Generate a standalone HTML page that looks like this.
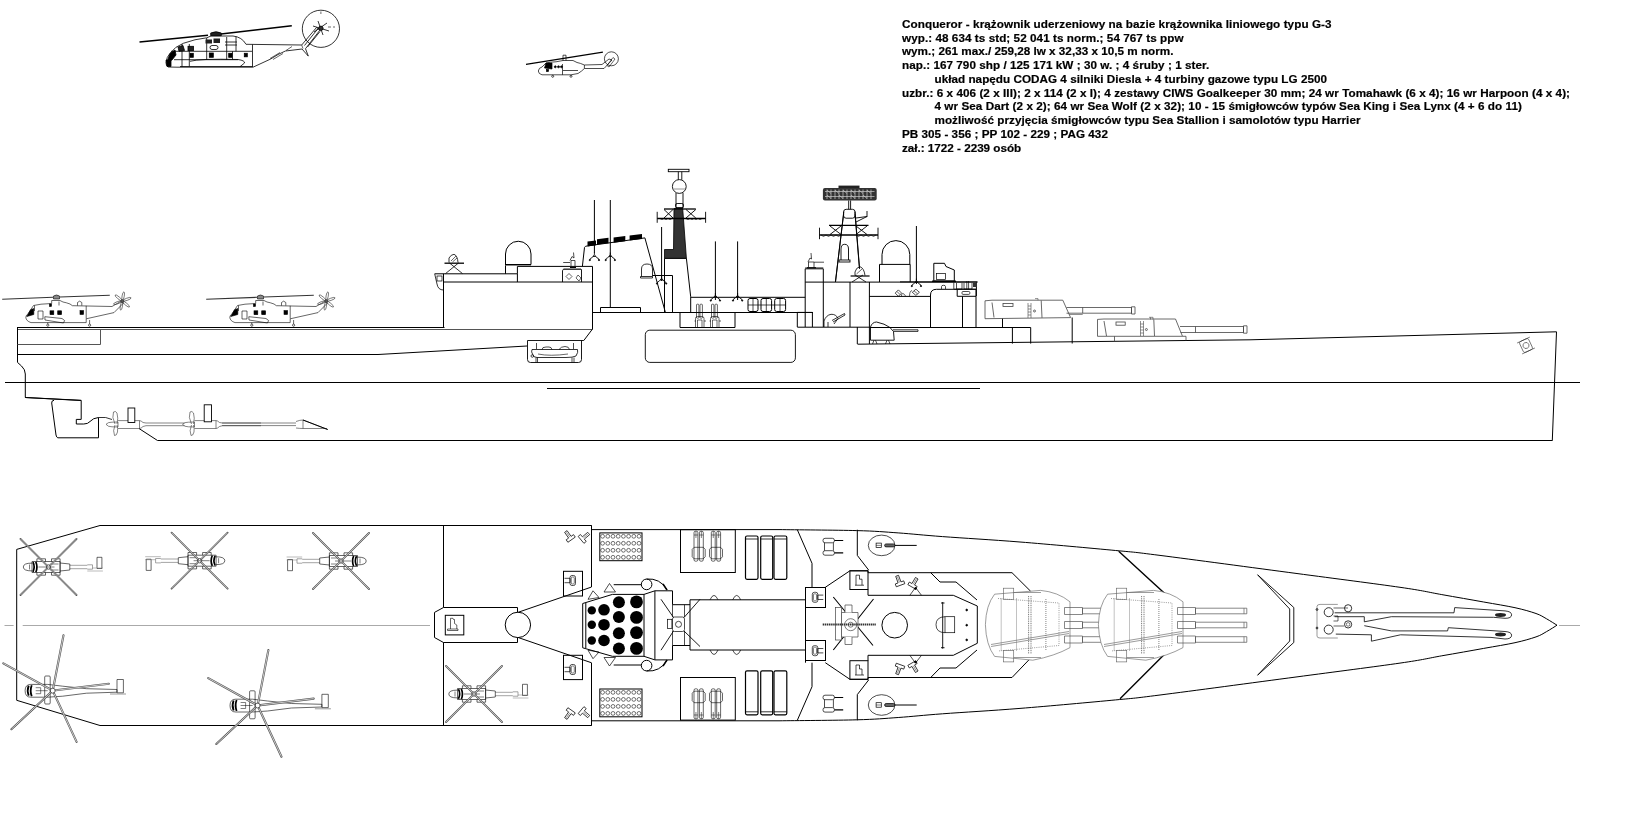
<!DOCTYPE html>
<html><head><meta charset="utf-8"><title>Conqueror</title>
<style>
html,body{margin:0;padding:0;background:#fff;width:1625px;height:825px;overflow:hidden}
svg{position:absolute;left:0;top:0}
.t{font-family:"Liberation Sans",sans-serif;font-weight:bold;font-size:11.7px;fill:#000;stroke:#000;stroke-width:0.2px}
</style></head><body>
<svg width="1625" height="825" viewBox="0 0 1625 825">
<rect width="1625" height="825" fill="#fff"/>
<defs>
<g id="claw" fill="none" stroke="#000" stroke-width="0.85"><path d="M0 0V2.2M0 2.2L-2.6 5.4M0 2.2L2.6 5.4M-1.4 4H1.4M-2.6 5.4Q-4.2 5.2 -4.6 7.6M2.6 5.4Q4.2 5.2 4.6 7.6"/><circle cx="-4.6" cy="7.6" r="0.6" fill="#000"/><circle cx="4.6" cy="7.6" r="0.6" fill="#000"/></g>
<g id="ciwsL" fill="none" stroke="#000" stroke-width="0.7"><rect x="-2.5" y="-5" width="5.5" height="10" rx="2"/><path d="M-2.5 -2.2H-8M-2.5 2.2H-8M-2.5 -2.2V2.2" /><rect x="-1.2" y="-3.5" width="3" height="7" rx="1" stroke-width="0.5"/></g>
<g id="dirT" fill="none" stroke="#000" stroke-width="0.7"><path d="M-4 5H5M-3 5V-5H0.5V-1H3V5" /></g>
<g id="tee" fill="none" stroke="#000" stroke-width="0.7"><path d="M-1.5 -5.5H1.5V1.5H4.5V4.5H-4.5V1.5H-1.5Z"/><path d="M0 -4.5V1.5" stroke-width="0.4"/></g>
<g id="gkT" fill="none" stroke="#000" stroke-width="0.6"><path d="M-4.5 1.3H4.5L6.5 3.3V10.8L4.5 12.8H-4.5L-6.5 10.8V3.3Z"/><rect x="-4.7" y="-14.8" width="3.9" height="30" rx="1.5"/><rect x="0.7" y="-14.8" width="3.9" height="30" rx="1.5"/><path d="M-4.7 -11H-0.8M0.7 -11H4.6M-2.75 -14.8V-8M2.65 -14.8V-8" stroke-width="0.5"/></g>
<g id="turT" fill="none" stroke="#666" stroke-width="0.65">
<path d="M994.6 594.2Q986 605 985.4 624.7Q986 645 994.6 656.4L1032.8 660.2Q1055 656 1070 647.6V601.8Q1058 592 1040.5 590.4Z" fill="#fff"/>
<path d="M998 598.5L1059 603V645.5L998 651" stroke-dasharray="1 1.2"/>
<path d="M1001.2 598.5V651M1016.5 598.5V651M1045.9 599V650" stroke-dasharray="1 1" stroke-width="0.8" stroke="#666"/>
<path d="M1028.6 596V654M1031 596V654" stroke-dasharray="1 0.8" stroke-width="0.8" stroke="#555"/>
<rect x="1003.4" y="588.2" width="10.3" height="11.4"/>
<rect x="1003.4" y="650.5" width="10.3" height="11.4"/>
<path d="M1013.7 592.5H1041M1013.7 657.5H1041"/>
<path d="M991 644.5L1069 631.5M991 646.5L1069 633.5"/>
<path d="M1064.5 607.5H1082.5V614.5H1064.5ZM1082.5 608.2H1133.8V613.8H1082.5Z" stroke="#555" stroke-width="0.7"/>
<path d="M1064.5 621.5H1082.5V628.5H1064.5ZM1082.5 622.2H1133.8V627.8H1082.5Z" stroke="#555" stroke-width="0.7"/>
<path d="M1064.5 636H1082.5V643H1064.5ZM1082.5 636.7H1133.8V642.3H1082.5Z" stroke="#555" stroke-width="0.7"/>
<path d="M1131 608.2V613.8M1131 622.2V627.8M1131 636.7V642.3" stroke="#555"/>
</g>
<g id="lynxT" fill="none" stroke="#000" stroke-width="0.6">
<path d="M-21.3 -1.7H-38.8M-21.3 1.7H-38.8" stroke="#666"/>
<path d="M-38.8 -2.2H-44V2.2H-38.8" stroke="#666"/>
<path d="M-48.5 -1.5H-53.4V9.7H-48.5Z"/>
<path d="M-54.4 -4H-38.8M-54.4 -1H-44" stroke="#777" stroke-width="0.5"/>
<path d="M-11.6 -4L-21.3 -3V3L-11.6 4"/>
<path d="M-11.6 -5.5H16.5V5.5H-11.6Z" fill="#fff"/>
<path d="M-11.6 -8.2H-3V-5.5M-11.6 8.2H-3V5.5M3 -5.5V-8.2H11.6V-5.5M3 5.5V8.2H11.6V5.5M-11.6 -8.2V8.2"/>
<path d="M16.5 -3.9Q25.2 -3.9 25.2 0Q25.2 3.9 16.5 3.9"/>
<path d="M15.5 -4.8Q13.2 0 15.5 4.8M12.7 -5.2Q10.4 0 12.7 5.2" stroke-width="1.7"/>
<path d="M-6 0H10M19 -2.5V2.5M-10 -3H-2M-10 3H-2" stroke-width="0.5"/>
<circle r="2.2"/>
<path d="M1.4 1.4L28.0 28.0M-1.4 1.4L-28.0 28.0M-1.4 -1.4L-28.0 -28.0M1.4 -1.4L28.0 -28.0" stroke="#555" stroke-width="1.8" stroke-linecap="round"/>
<path d="M1.4 1.4L28.0 28.0M-1.4 1.4L-28.0 28.0M-1.4 -1.4L-28.0 -28.0M1.4 -1.4L28.0 -28.0" stroke="#fff" stroke-width="0.6"/>
</g>
<g id="stalT" fill="none" stroke="#000" stroke-width="0.6">
<path d="M-27.6 0Q-27.6 -6.3 -22 -6.3H-5L10 -4.5L33.8 -2L64.3 -1.2V1.5L33.8 2.5L10 5.5L-5 6.5H-22Q-27.6 6.5 -27.6 0Z"/>
<path d="M-24 -5Q-26 0 -24 5M-21 -5.5Q-23 0 -21 5.5" stroke-width="1.8"/>
<path d="M-17 0H-5M-17 -3H-12V3H-17" stroke-width="0.5"/>
<rect x="-8" y="-14.7" width="5.5" height="28" rx="1"/>
<path d="M64.3 -11.2H70.7V2.1H64.3Z"/>
<path d="M57.3 3.3H73.3" stroke="#555"/>
<circle r="2.5"/>
<path d="M0.6 -2.9L10.8 -55.5M3.0 -0.4L56.1 -6.9M1.3 2.7L23.9 51.2M-2.2 2.0L-41.3 38.5M-2.6 -1.5L-49.4 -27.4" stroke="#555" stroke-width="2.1" stroke-linecap="round"/>
<path d="M0.6 -2.9L10.8 -55.5M3.0 -0.4L56.1 -6.9M1.3 2.7L23.9 51.2M-2.2 2.0L-41.3 38.5M-2.6 -1.5L-49.4 -27.4" stroke="#fff" stroke-width="0.7"/>
</g>
</defs>

<!-- TEXT -->
<g class="t" style="will-change:transform">
<text x="902" y="28.0" textLength="429.6" lengthAdjust="spacing">Conqueror - krążownik uderzeniowy na bazie krążownika liniowego typu G-3</text>
<text x="902" y="41.7" textLength="281.5" lengthAdjust="spacing">wyp.: 48 634 ts std; 52 041 ts norm.; 54 767 ts ppw</text>
<text x="902" y="55.4" textLength="271.4" lengthAdjust="spacing">wym.; 261 max./ 259,28 lw x 32,33 x 10,5 m norm.</text>
<text x="902" y="69.2" textLength="307.2" lengthAdjust="spacing">nap.: 167 790 shp / 125 171 kW ; 30 w. ; 4 śruby ; 1 ster.</text>
<text x="934.5" y="82.9" textLength="392.5" lengthAdjust="spacing">układ napędu CODAG 4 silniki Diesla + 4 turbiny gazowe typu LG 2500</text>
<text x="902" y="96.6" textLength="668.0" lengthAdjust="spacing">uzbr.: 6 x 406 (2 x III); 2 x 114 (2 x I); 4 zestawy CIWS Goalkeeper 30 mm; 24 wr Tomahawk (6 x 4); 16 wr Harpoon (4 x 4);</text>
<text x="934.5" y="110.3" textLength="587.4" lengthAdjust="spacing">4 wr Sea Dart (2 x 2); 64 wr Sea Wolf (2 x 32); 10 - 15 śmigłowców typów Sea King i Sea Lynx (4 + 6 do 11)</text>
<text x="934.5" y="124.0" textLength="426.0" lengthAdjust="spacing">możliwość przyjęcia śmigłowców typu Sea Stallion i samolotów typu Harrier</text>
<text x="902" y="137.8" textLength="205.9" lengthAdjust="spacing">PB 305 - 356 ; PP 102 - 229 ; PAG 432</text>
<text x="902" y="151.5" textLength="119.2" lengthAdjust="spacing">zał.: 1722 - 2239 osób</text>
</g>
<!-- SIDE VIEW HULL -->
<g id="side" fill="none" stroke="#000" stroke-width="1">
<!-- flight deck & sheer -->
<path d="M17.5 327.5H444.5"/>
<path d="M17.5 329.5H592.5" stroke="#555"/>
<!-- stern -->
<path d="M17.5 327V362.4L21.5 366Q25.3 369.5 25.3 374V397.5L81 400.5"/>
<path d="M17.5 344.5H100.5V329.5" stroke="#555"/>
<path d="M17.5 354.5H378L527 346"/>
<!-- waterline, keel -->
<path d="M5 382.5H1580"/>
<path d="M547 388.5H980"/>
<path d="M157.5 440.5H1552.5"/>
<!-- bow -->
<path d="M857.5 344.2L1250 339.8L1556.5 331.8L1552.3 440.5"/>
</g>

<g id="sk" fill="none" stroke="#000" stroke-width="0.6">
<path d="M2.2 299.2L53 297.3M60 297L109.8 295.3" stroke="#333" stroke-width="1.1"/>
<path d="M53.5 299V296Q56.5 294 59.5 296V299Z" fill="#888"/>
<path d="M28.4 313.4L33.5 305.5L41 304.2L51.7 303.5V300.5H60L63 302Q66 302.5 70 304L72.4 305.7L112 306.5L120.5 301.5L123.5 303L114 312.6L86.2 318.8V322.6H31Q26 321 25.8 317.2Q26 315 28.4 313.4Z"/>
<path d="M77.5 305.6V302.5Q79.6 299.8 81.8 302.5V305.6"/>
<path d="M86.2 305.8V318.6M59 301.5V305.5M34.5 305.5V311"/>
<path d="M44.8 316.7L62 318.5L64.6 320.5L63.5 323L45 320Z"/>
<path d="M38 311V319H43V311Z"/>
<rect x="50" y="310.8" width="3.8" height="3.9" fill="#000"/>
<rect x="57.7" y="310.8" width="3.9" height="3.9" fill="#000"/>
<rect x="80" y="310.6" width="3.6" height="3.9" fill="#000"/>
<path d="M26.8 316.5L30.5 309.8L33.8 308.5L33.8 314.5Z" fill="#000"/>
<rect x="49.5" y="304" width="2" height="2.5" fill="#000"/>
<path d="M47.8 322.6V324M89.6 320V324"/>
<circle cx="47.8" cy="325.2" r="1.1"/>
<circle cx="89.6" cy="325.2" r="1.1"/>
<g transform="translate(122.3 301)" stroke-width="0.6" stroke="#333"><ellipse cx="5" cy="0" rx="4.3" ry="1.1" transform="rotate(-80)"/><ellipse cx="5" cy="0" rx="4.3" ry="1.1" transform="rotate(-20)"/><ellipse cx="5" cy="0" rx="4.3" ry="1.1" transform="rotate(40)"/><ellipse cx="5" cy="0" rx="4.3" ry="1.1" transform="rotate(100)"/><ellipse cx="5" cy="0" rx="4.3" ry="1.1" transform="rotate(160)"/><ellipse cx="5" cy="0" rx="4.3" ry="1.1" transform="rotate(220)"/><circle r="1.5" fill="#555"/></g>
</g>
<use href="#sk" x="204" y="0"/>

<!-- SEA STALLION flying -->
<g fill="none" stroke="#000" stroke-width="0.8">
<path d="M139.5 42L208 35.2M221 34L291.8 25.7" stroke-width="1.5"/>
<path d="M210.7 35.7V33Q216 30.5 221.3 33V35.7Z" fill="#222"/>
<path d="M166 62.7Q166.5 57 170 53.3Q175 46.5 183.3 43.3Q195 39 206.7 37.8L211 36H233Q242 37 246 44.3L301.7 45L316.5 27.5L320 30L305.5 48.7L308.3 56.1L302 49L285.4 51Q278 54 270.7 59L253 67.2H177L168 67Q166 66 166 62.7Z"/>
<path d="M286 50.5L292 46.5M301.7 45L303 48.7M270 58.5L280 52.5M273 59.5L283 53.5" stroke-width="0.6"/>
<path d="M171 51.3H252M174 59.7H238M180 66.5H252.5"/>
<path d="M182 44V67M189.3 44V66.5M206.7 38V59.7M226.7 37V59.7M236 36.5V51.3M252.5 44.5V67M232.5 51.3V59.7"/>
<path d="M190 61.3Q200 58.5 238 59.5Q245 60.5 244.5 63L240 66.7" />
<rect x="190" y="53.3" width="3.3" height="4" fill="#000"/>
<rect x="209.3" y="53" width="4" height="4.3" fill="#000"/>
<rect x="228.7" y="53.3" width="3.3" height="4" fill="#000"/>
<rect x="244.3" y="53.3" width="3" height="3.5" fill="#000"/>
<path d="M167 62L170 53.5L175 50L176 55L172 60Z" fill="#000"/>
<path d="M166 60H171V66.5H167Z" fill="#000"/>
<path d="M178 47L183 45.5L184.5 50.5L179 51.3Z" fill="#222"/>
<rect x="188" y="46.3" width="5.5" height="4.3" fill="#222"/>
<path d="M205.5 39.5H212V43.5H205.5ZM213.5 38.5H220V43H213.5Z" fill="#222" stroke="none"/>
<rect x="210" y="45.5" width="8" height="4" rx="2"/>
<path d="M225 42H237M225 45H237"/>
<circle cx="320.9" cy="28.8" r="18.6"/>
<path d="M320.9 11.5V14M328 27H331M333 27H335" stroke-width="0.6"/>
<path d="M313 26L329 31M318 21L323 35M314 32L327 23" stroke-width="0.8"/>
<circle cx="320.9" cy="28.3" r="2.2" fill="#333"/>
<path d="M304.5 45.5L318 28.5M307.5 47L320 31.5" stroke-width="0.8"/>
</g>
<!-- LYNX flying -->
<g fill="none" stroke="#000" stroke-width="0.7">
<path d="M526 64.4L602.9 52.2" stroke-width="1.2"/>
<path d="M563 60.5V55.2H566V60.5"/>
<path d="M538.3 71Q538.8 67.7 542 67L546 63Q550 62 556 61.8L563 60.5H573L577 62.5Q580 63 584.4 65L602 64.5L609 59L612 60L604 68.5L584.4 68.5Q582 71 578 73.5L571 74.8H542Q538.5 74 538.3 71Z"/>
<path d="M546 63L544.5 68L552 69L552 63Z" fill="#000"/>
<circle cx="555.3" cy="66.8" r="1" fill="#000"/>
<circle cx="558.5" cy="66.8" r="1" fill="#000"/>
<circle cx="561.5" cy="66.8" r="1" fill="#000"/>
<rect x="546.5" y="69.5" width="2" height="2" fill="#000"/>
<path d="M562.5 64V74.8M584.4 65V68.5M563 70.5H578"/>
<circle cx="552.7" cy="76.3" r="1"/>
<circle cx="571" cy="76.3" r="1"/>
<circle cx="611.4" cy="58.8" r="7"/>
<path d="M607 65.5L613 57.5L615 59L609 67Z" stroke-width="0.6"/>
</g>
<!-- SIDE SUPERSTRUCTURE -->
<g fill="none" stroke="#000" stroke-width="1">
<!-- hangar -->
<path d="M443.5 327V273.8"/>
<path d="M434.7 273.8H517.4V266.4H592.5V329"/>
<path d="M443.5 282H592.5M517.4 273.8V282"/>
<path d="M592.5 329L583.8 340.5"/>
<!-- dome aft -->
<path d="M505.5 273.8V254A12.75 12.75 0 0 1 531 254V264.5H505.5"/>
<path d="M505.5 265.5H531" stroke="#888"/>
<!-- stern director box -->
<path d="M434.7 273.8L437 284Q438 290 443.5 290" stroke-width="0.8"/>
<rect x="437" y="276" width="5" height="5" stroke-width="0.7"/>
<!-- funnel -->
<path d="M582.4 266.3L584.5 247.4Q585 246 587.5 245.9L644.9 237.9L665.3 312.1"/>
<!-- masts -->
<path d="M594.4 200V253M610.3 200V307"/>
<path d="M600.5 312V307.5H640.5V312"/>
<!-- small dome -->
<path d="M640.5 276.5H652.5V278H640.5ZM641.5 276.5V269Q641.5 264 647 264Q652.5 264 652.5 269V276.5" stroke-width="0.8"/>
<path d="M652.4 275.5H672.5V312"/>
<path d="M661.6 227V281"/>
<!-- main tower -->
<path d="M664.5 312V258.3H686.4L690.7 296.8V312"/>
<!-- main deck -->
<path d="M592.5 312.5H813"/>
<path d="M691 297.3H805.2"/>
</g>
<!-- black tower -->
<path d="M664.5 258.3V249.5H673.5L674 208.5H682.7L686.4 258.3Z" fill="#333" stroke="#000" stroke-width="0.8"/>
<!-- black caps on funnel -->
<g fill="#000">
<path d="M587.5 241.6L596 240.6V245.3L587.5 246.4Z"/>
<path d="M597 239.2L608.5 237.8V243.2L597 244.6Z"/>
<path d="M613.6 237.5L625.3 236V241.3L613.6 242.7Z"/>
<path d="M629.6 235.6L642 234V239L629.6 240.6Z"/>
</g>

<!-- FORWARD SUPERSTRUCTURE -->
<g fill="none" stroke="#000" stroke-width="1">
<path d="M715.4 241.4V300M737.6 241.4V300"/>
<rect x="748" y="298.5" width="10" height="13" rx="2"/>
<rect x="761" y="298.5" width="10.6" height="13" rx="2"/>
<rect x="774.7" y="298.5" width="10.9" height="13" rx="2"/>
<path d="M748 305H785.6M753 298.5V311.5M766.3 298.5V311.5M780 298.5V311.5" stroke-width="0.7"/>
<path d="M680 312.5V327.5H735V312.5"/>
<path d="M797.3 327V312.4H812.4V327"/>
<path d="M797.3 327.2H869.4"/>
<path d="M805.2 327V268.8H823.3V327"/>
<path d="M805.2 267.8H823.3" stroke-width="0.7"/>
<path d="M805.2 282.1H900"/>
<path d="M850 282V327"/>
<path d="M869.4 282V344"/>
<path d="M857.3 327V344"/>
<!-- fore mast legs -->
<path d="M843.8 211.5L835.5 282M855 211.5L859.5 268"/>
<!-- radar dome fwd -->
<path d="M879.5 282V264.4H910.2V282"/>
<path d="M882 264.4V254.5A13.9 13.9 0 0 1 909.8 254.5V264.4"/>
<path d="M916.4 226V284"/>
<!-- director -->
<path d="M933.8 281V263.3H944.5L946 266.5L954.3 270V281Z"/>
<rect x="936.5" y="273.5" width="9" height="6" stroke-width="0.7"/>
<path d="M932 281.3H956" stroke-width="1.5"/>
<path d="M900 282.1H977.5" stroke-width="1.5"/>
<path d="M976.4 282V296"/>
<path d="M869.4 296.4H930.5"/>
<path d="M930.5 327.5V295Q930.5 289.3 936.5 289.3H976V327.5"/>
<path d="M962.5 296.3V327.5M957.2 289.3V296.3H976"/>
<rect x="962" y="291.5" width="7.8" height="2.9" rx="1" stroke-width="0.7"/>
<path d="M895.2 293.1L898.4 289.9L901.6 293.1L898.4 296.3ZM912.3 292.3L915.9 289.2L919.4 292.3L915.9 295.4Z" stroke-width="0.7"/>
<path d="M897 291.5L900 294.5M914 290.8L917.5 293.8M901.3 296.3Q902 290.5 905.8 296.3M909.5 296.3Q909.5 291 912 290.5" stroke-width="0.6"/>
<path d="M941.5 289V286.5Q941.5 285.3 943.5 285.3Q945.5 285.3 945.5 286.5V289" stroke-width="0.7"/>
<path d="M953.8 282.5V289M956.5 283V289H962V283M964 283V289H972V283M966.8 281V289M968.6 281V289" stroke-width="0.7"/>
<rect x="973" y="282.5" width="4" height="4.5" fill="#333" stroke="none"/>
<path d="M953.8 289.2H976" stroke-width="0.8"/>
<path d="M869.4 327.5H1030.7"/>
<path d="M1012.4 327.5V343.6M1030.7 327.5V343.6"/>
</g>

<!-- TURRETS SIDE -->
<g id="turA" fill="none" stroke="#444" stroke-width="0.8">
<path d="M985 318.7V300.8L992 300.2H1062.8L1070.6 317.6L985 318.7"/>
<path d="M992 302.5L994 317.5M1041.2 300.5L1042 317.8"/>
<rect x="1003" y="303.5" width="10" height="3"/>
<path d="M1028 303V318M1031 303V318M1028 306H1031M1028 309H1031M1028 312H1031M1028 315H1031" stroke-width="0.6"/>
<circle cx="1034.5" cy="311" r="1" />
<path d="M1035 298.6H1038V300.2" stroke-width="0.6"/>
<path d="M1066.5 307.5H1131.5V313.2H1066.5M1082.7 307.5V313.2M1131.5 306.8V314H1135V306.8Z"/>
<path d="M1069.4 314.5H1082.7" stroke-width="0.6"/>
</g>
<path d="M1002.5 318.7V327.5M1072.2 317.5V343.5" fill="none" stroke="#000" stroke-width="1"/>
<g fill="none" stroke="#444" stroke-width="0.8">
<path d="M1097.5 336.3V319.4L1104 319H1175.5L1182.5 336.3Z"/>
<path d="M1104 321L1106.5 336M1153.8 319.5L1154.5 336"/>
<rect x="1116" y="322" width="9.2" height="3.2"/>
<path d="M1140.5 321V336M1143.5 321V336M1140.5 324H1143.5M1140.5 327H1143.5M1140.5 330H1143.5M1140.5 333H1143.5" stroke-width="0.6"/>
<path d="M1149 317.3H1153V319.5M1150.5 317.3V319.5" stroke-width="0.6"/>
<path d="M1180 326.5H1243.5V332.5H1180.5M1195.5 326.5V332.5M1243.5 325.8V333.2H1247V325.8Z"/>
<circle cx="1146.4" cy="329.5" r="1"/>
<path d="M1114.5 336.3V341.5M1182.5 336.3L1186 336.3V340.5"/>
</g>

<!-- MASTS -->
<g fill="none" stroke="#000" stroke-width="0.9">
<!-- main mast top -->
<rect x="668.3" y="169.3" width="20.7" height="2.4"/>
<path d="M678.3 171.7V179.8M681.8 171.7V179.8"/>
<circle cx="679.3" cy="186.5" r="6.9"/>
<path d="M673.5 189H685" stroke="#888"/>
<path d="M676 193V207.8H683V193"/>
<rect x="675.6" y="203.5" width="7.8" height="4.3" rx="1.5"/>
<path d="M664 209H695.8" stroke-width="1.3"/>
<path d="M657.2 218.5H705.6" stroke-width="1.5"/>
<path d="M657.2 211.8V222.8M705.6 211.8V222.8"/>
<path d="M664 209.5L673 218M673 209.5L664 218M686 209.5L695.8 218M695.8 209.5L686 218"/>
<path d="M660 218.5Q662 221 664 218.5Q666 221 668 218.5Q670 221 672 218.5M686 218.5Q688 221 690 218.5Q692 221 694 218.5Q696 221 698 218.5Q700 221 702 218.5" stroke-width="0.6"/>
<!-- fore mast -->
<path d="M843.6 214.4L835.4 281.8M855 214.4L859.5 269"/>
<path d="M848.7 200.4V209.3M850.6 200.4V209.3"/>
<rect x="843.6" y="209.3" width="11.4" height="8.9" rx="2.5"/>
<path d="M829 225.4H868.5" stroke-width="1.3"/>
<path d="M819.5 235H878" stroke-width="1.5"/>
<path d="M819.5 227.7V239.2M878 227.7V239.2"/>
<path d="M830 226L841 234.5M841 226L830 234.5M856 226L867 234.5M867 226L856 234.5"/>
<path d="M821 235Q823.5 238 826 235Q828.5 238 831 235Q833.5 238 836 235Q838.5 238 841 235M856 235Q858.5 238 861 235Q863.5 238 866 235Q868.5 238 871 235Q873.5 238 876 235" stroke-width="0.6"/>
<path d="M856 218L867 216.5M856 222L867 216.5M867 211V217" />
<!-- fore small radome -->
<path d="M841 260V249Q841 244.3 844.7 244.3Q848.5 244.3 848.5 249V260"/>
<rect x="839" y="260" width="11" height="2" fill="#fff"/>
</g>
<!-- fore radar antenna -->
<rect x="838.5" y="185.6" width="21" height="2.4" fill="#222"/>
<rect x="822.9" y="187.9" width="53.8" height="12.5" rx="2" fill="#333"/>
<g stroke="#ccc" stroke-width="0.7" fill="none">
<path d="M825 191.5H874.5M825 196.5H874.5"/>
<path d="M827 189.5V199M831 189.5V199M835 189.5V199M839 189.5V199M843 189.5V199M847 189.5V199M851 189.5V199M855 189.5V199M859 189.5V199M863 189.5V199M867 189.5V199M871 189.5V199"/>
<path d="M827 190L831 193.5M835 190L839 193.5M843 190L847 193.5M851 190L855 193.5M859 190L863 193.5M867 190L871 193.5M827 195L831 198.5M839 195L843 198.5M851 195L855 198.5M863 195L867 198.5"/>
</g>

<!-- SMALL SIDE ITEMS -->
<use href="#claw" x="594.4" y="252.5"/>
<use href="#claw" x="610.3" y="252.5"/>
<use href="#claw" x="661.6" y="276"/>
<use href="#claw" x="715.4" y="293"/>
<use href="#claw" x="737.6" y="293"/>
<use href="#claw" x="916.4" y="278.5"/>
<g fill="none" stroke="#000" stroke-width="0.9">
<!-- aft ciws platform -->
<path d="M562.5 282V270.5Q562.5 269.5 564 269.5H581.5V282" />
<path d="M563.5 268.8H581" stroke="#777" stroke-width="1.2"/>
<path d="M566 276.5L569 273.5L572 276.5L569 279.5ZM578 275L581 278L579 281L576 278Z" stroke-width="0.6"/>
<path d="M571 266.5V260.5H575V266.5M570 260.5L572 256.5L574 258L573.5 252.5M563.2 262.5H570" stroke-width="0.7"/>
<path d="M570 267.5H576" stroke-width="1"/>
<!-- fwd ciws on box -->
<path d="M808.5 267.5V262H814V267.5M808 262L810 258L811.5 259L811 253M814 262.2H824" stroke-width="0.7"/>
<path d="M807 267.8H816" stroke-width="1.2"/>
<!-- stern director -->
<path d="M445.5 273.6L458.5 263M462.5 273.6L449.5 263" stroke-width="0.8"/>
<path d="M444.5 263.2H464" stroke-width="1.3"/>
<path d="M449 262.5V258Q451 254.5 454 254.3Q457.5 255.5 458 262.5" stroke-width="0.8"/>
<path d="M451 261L456 256M452.5 262L457 258" stroke-width="0.6"/>
<!-- fwd director dish -->
<path d="M852 282L863 275M866 282L855 275" stroke-width="0.8"/>
<path d="M850.6 276H869.6" stroke-width="1.2"/>
<path d="M855 275.5V272Q856 267.5 860 266.7Q864 268 865 275.5" stroke-width="0.8"/>
<path d="M856.5 274L862 269" stroke-width="0.6"/>
<!-- 114mm turret side -->
<path d="M870.5 340.2V327Q872 322.2 876.5 322L884 324.2Q891 327 893.5 331.5L894.2 340.2Z"/>
<path d="M893 329.8H918V331.4H893.5" stroke-width="0.8"/>
<path d="M874 340.2L872.5 344M875.5 340.2L877 344M887 340.2L885.5 344M888.5 340.2L890 344" stroke-width="0.7"/>
<!-- ciws angled below deck -->
<path d="M824 327V321Q826 315.2 831 314.3Q836 314 838 318.5L834 324M828 327V322" stroke-width="0.8"/>
<path d="M832 320.5L844.5 313.5L845 315L833 322" stroke-width="0.8"/>
<!-- deck recess launchers -->
<g id="sdl" stroke-width="0.6"><rect x="696.5" y="304.2" width="2.4" height="14" rx="0.8"/><rect x="700" y="304.2" width="2.4" height="14" rx="0.8"/><path d="M695.5 327V318.5Q695.5 316.5 697.5 316.5H702Q704 316.5 704 318.5V327M697.5 327V320H702V327M694.5 321H696M704 321H706"/></g>
<use href="#sdl" x="15"/>
<!-- big rounded hull rect -->
<rect x="645.3" y="330.2" width="150.1" height="32.2" rx="4.5"/>
<!-- boat recess -->
<path d="M583.8 340.5H527.5V359.5Q527.5 362.5 530.5 362.5H578.5Q581.5 362.5 581.5 359.5V340.5" />
<path d="M532 349.5H577.5Q578.5 352 576 356Q573 357.5 566 357.5H537Q533 357.5 532.5 354Q531 352 532 349.5Z" stroke-width="0.8"/>
<path d="M538 354Q550 356.5 568 354" stroke-width="0.6"/>
<circle cx="532.3" cy="356" r="1.3" stroke-width="0.7"/>
<path d="M536.5 343V349M573.5 343V349M536 357.5V362.5M537.5 357.5V362.5M572 357.5V362.5M574 357.5V362.5" stroke-width="0.7"/>
<path d="M542 349.5Q542 347 546 347H549Q551.5 347 552 349.5M559 349.5Q561 346.5 565 346.5Q569 346.5 569.5 349.5" stroke-width="0.7"/>
</g>

<!-- TOP VIEW -->
<g fill="none" stroke="#000" stroke-width="1">
<path d="M16.7 549.4L100 525.5H591.5V529.6H780C792.8 529.8 837.1 530.1 856.8 530.6C876.5 531.1 883.9 531.9 898.2 532.9C912.5 533.9 922.2 535.1 942.5 536.6C962.8 538.1 991.1 539.7 1020.0 542.0C1048.9 544.3 1092.4 548.3 1115.7 550.5C1139.0 552.7 1130.0 551.6 1160.0 555.4C1190.0 559.2 1256.0 568.1 1296.0 573.4C1336.0 578.7 1375.7 583.8 1400.0 587.3C1424.3 590.8 1427.8 592.1 1441.8 594.6C1455.8 597.1 1471.5 599.8 1483.7 602.0C1495.9 604.2 1506.3 605.8 1515.0 607.7C1523.7 609.6 1530.8 611.7 1536.0 613.5C1541.2 615.3 1542.9 616.8 1546.4 618.7C1549.9 620.7 1555.2 624.1 1557.0 625.2C1555.2 626.3 1549.9 629.8 1546.4 631.7C1542.9 633.7 1541.2 635.1 1536.0 636.9C1530.8 638.7 1523.7 640.8 1515.0 642.7C1506.3 644.6 1495.9 646.2 1483.7 648.4C1471.5 650.6 1455.8 653.4 1441.8 655.8C1427.8 658.3 1424.3 659.6 1400.0 663.1C1375.7 666.6 1336.0 671.7 1296.0 677.0C1256.0 682.3 1190.0 691.2 1160.0 695.0C1130.0 698.8 1139.0 697.7 1115.7 699.9C1092.4 702.1 1048.9 706.1 1020.0 708.4C991.1 710.7 962.8 712.3 942.5 713.8C922.2 715.3 912.5 716.5 898.2 717.5C883.9 718.5 876.5 719.3 856.8 719.8C837.1 720.4 792.8 720.6 780.0 720.8H591.5V725.5H100L16.7 700.3Z"/>
<path d="M443.5 525.5V607.4M443.5 642.3V725.5M591.5 525.5V587.1M591.5 662.7V725.5"/>
<path d="M22.7 625.5H430M4.5 625.5H13.6M1559 625.5H1580" stroke="#aaa" stroke-width="1"/>
<!-- hangar roof centre -->
<path d="M517.5 612.4V607.5H443.5L434.5 612.4V637.5L443.5 642.5H517.5V637.8"/>
<rect x="445.3" y="615.3" width="18.5" height="19.6"/>
<path d="M450.5 629V618.3H453L453.5 619.5H454.5V623.5L456.8 625V629M447.5 629H458V630.5H447.5Z" stroke-width="0.6"/>
<circle cx="517.9" cy="624.9" r="12.7"/>
<path d="M518.4 612.2L591.3 587.1M518.4 637.6L591.3 662.7"/>
<!-- ciws boxes hangar -->
<rect x="563.5" y="571.3" width="19" height="24.7"/>
<rect x="563.5" y="655.3" width="19" height="24.3"/>
<!-- launcher trapezoid -->
<path d="M582.7 603.5L612.4 594.4H644L654.9 590.8V659.9L644 656.3H612.4L582.7 647.8Z"/>
<path d="M585.8 603V648M644 594.4V656.3"/>
<path d="M613.7 584.7H641.5M613.7 665H641.5"/>
<circle cx="646.6" cy="584.4" r="5.3"/>
<circle cx="646.6" cy="665.6" r="5.3"/>
<path d="M646.6 579Q660 578 667 589.6M646.6 671Q660 672 667 660.4"/>
<path d="M654.9 590.8H672.5V604.7H690M654.9 659.9H672.5V645.5H690"/>
<path d="M690 599.8V650"/>
<!-- long rect -->
<path d="M690 599.8H805.5M690 650H805.5"/>
<!-- VLS grids boxes -->
<rect x="599.8" y="532.9" width="42.2" height="27.8"/>
<rect x="599.8" y="689" width="42.2" height="27.8"/>
<rect x="680.5" y="529.7" width="54.8" height="42.8"/>
<rect x="680.5" y="677.5" width="54.8" height="42.6"/>
<rect x="745.5" y="536" width="12.5" height="43.3" rx="1.5" stroke-width="1.2"/><path d="M745.5 539.0H758.0" stroke-width="0.8"/>
<rect x="760.7" y="536" width="12" height="43.3" rx="1.5" stroke-width="1.2"/><path d="M760.7 539.0H772.7" stroke-width="0.8"/>
<rect x="774" y="536" width="12.8" height="43.3" rx="1.5" stroke-width="1.2"/><path d="M774.0 539.0H786.8" stroke-width="0.8"/>
<rect x="745.5" y="670.8" width="12.5" height="44" rx="1.5" stroke-width="1.2"/><path d="M745.5 711.8H758.0" stroke-width="0.8"/>
<rect x="760.7" y="670.8" width="12" height="44" rx="1.5" stroke-width="1.2"/><path d="M760.7 711.8H772.7" stroke-width="0.8"/>
<rect x="774" y="670.8" width="12.8" height="44" rx="1.5" stroke-width="1.2"/><path d="M774.0 711.8H786.8" stroke-width="0.8"/>
<!-- fwd superstructure -->
<path d="M797.3 529.7L812 563.3V587.3M797.3 720.3L812 686.7V662.7"/>
<path d="M857.3 529.7V555.4L868.6 570M857.3 720.3V694.6L868.6 680"/>
<path d="M805.5 587.3V662.7"/>
<path d="M825.3 587.3L849.9 570.8H868V572.7H1012L1030.7 591.3V658L1012 677.5H868V679.3H849.9L825.3 662.7"/>
<path d="M868 595.3H953.3L977.3 606V643.3L953.3 655.3H868"/>
<path d="M930.7 572.7L940 582H956L977 600M930.7 677.5L940 668H956L977 650"/>
<rect x="805.5" y="587.5" width="20" height="20"/>
<rect x="805.5" y="640.5" width="20" height="20"/>
<rect x="849.9" y="570.8" width="18.1" height="18.7"/>
<rect x="849.9" y="660.7" width="18.1" height="18.6"/>
<circle cx="894.7" cy="625.2" r="12.8"/>
<path d="M868 589.5V595.3M868 655.3V660.7"/>
<!-- breakwaters -->
<path d="M1118.7 551.3L1166.7 595.3M1120 698.7L1164 654.7" stroke-width="1.4"/>
<path d="M1257.6 574.8L1293.8 607.5V642.5L1257.6 675.2L1289.7 641V609Z" stroke-width="0.9"/>
</g>
<g fill="#000">
<circle cx="591.8" cy="610.4" r="4.2"/>
<circle cx="591.8" cy="624.7" r="4.2"/>
<circle cx="591.8" cy="640.5" r="4.2"/>
<circle cx="604.0" cy="609.8" r="5.8"/>
<circle cx="604.0" cy="624.7" r="5.8"/>
<circle cx="604.0" cy="640.5" r="5.8"/>
<circle cx="618.9" cy="602.3" r="6.0"/>
<circle cx="618.9" cy="617.1" r="6.0"/>
<circle cx="618.9" cy="633.2" r="6.0"/>
<circle cx="618.9" cy="648.4" r="6.0"/>
<circle cx="636.5" cy="601.9" r="6.4"/>
<circle cx="636.5" cy="617.4" r="6.4"/>
<circle cx="636.5" cy="632.6" r="6.4"/>
<circle cx="636.5" cy="648.4" r="6.4"/>
</g>
<g fill="none" stroke="#000" stroke-width="0.55">
<circle cx="602.6" cy="536.3" r="1.9"/>
<circle cx="602.6" cy="543.3" r="1.9"/>
<circle cx="602.6" cy="550.3" r="1.9"/>
<circle cx="602.6" cy="557.3" r="1.9"/>
<circle cx="607.8" cy="536.3" r="1.9"/>
<circle cx="607.8" cy="543.3" r="1.9"/>
<circle cx="607.8" cy="550.3" r="1.9"/>
<circle cx="607.8" cy="557.3" r="1.9"/>
<circle cx="613.0" cy="536.3" r="1.9"/>
<circle cx="613.0" cy="543.3" r="1.9"/>
<circle cx="613.0" cy="550.3" r="1.9"/>
<circle cx="613.0" cy="557.3" r="1.9"/>
<circle cx="618.2" cy="536.3" r="1.9"/>
<circle cx="618.2" cy="543.3" r="1.9"/>
<circle cx="618.2" cy="550.3" r="1.9"/>
<circle cx="618.2" cy="557.3" r="1.9"/>
<circle cx="623.4" cy="536.3" r="1.9"/>
<circle cx="623.4" cy="543.3" r="1.9"/>
<circle cx="623.4" cy="550.3" r="1.9"/>
<circle cx="623.4" cy="557.3" r="1.9"/>
<circle cx="628.6" cy="536.3" r="1.9"/>
<circle cx="628.6" cy="543.3" r="1.9"/>
<circle cx="628.6" cy="550.3" r="1.9"/>
<circle cx="628.6" cy="557.3" r="1.9"/>
<circle cx="633.8" cy="536.3" r="1.9"/>
<circle cx="633.8" cy="543.3" r="1.9"/>
<circle cx="633.8" cy="550.3" r="1.9"/>
<circle cx="633.8" cy="557.3" r="1.9"/>
<circle cx="639.0" cy="536.3" r="1.9"/>
<circle cx="639.0" cy="543.3" r="1.9"/>
<circle cx="639.0" cy="550.3" r="1.9"/>
<circle cx="639.0" cy="557.3" r="1.9"/>
<circle cx="602.6" cy="692.4" r="1.9"/>
<circle cx="602.6" cy="699.4" r="1.9"/>
<circle cx="602.6" cy="706.4" r="1.9"/>
<circle cx="602.6" cy="713.4" r="1.9"/>
<circle cx="607.8" cy="692.4" r="1.9"/>
<circle cx="607.8" cy="699.4" r="1.9"/>
<circle cx="607.8" cy="706.4" r="1.9"/>
<circle cx="607.8" cy="713.4" r="1.9"/>
<circle cx="613.0" cy="692.4" r="1.9"/>
<circle cx="613.0" cy="699.4" r="1.9"/>
<circle cx="613.0" cy="706.4" r="1.9"/>
<circle cx="613.0" cy="713.4" r="1.9"/>
<circle cx="618.2" cy="692.4" r="1.9"/>
<circle cx="618.2" cy="699.4" r="1.9"/>
<circle cx="618.2" cy="706.4" r="1.9"/>
<circle cx="618.2" cy="713.4" r="1.9"/>
<circle cx="623.4" cy="692.4" r="1.9"/>
<circle cx="623.4" cy="699.4" r="1.9"/>
<circle cx="623.4" cy="706.4" r="1.9"/>
<circle cx="623.4" cy="713.4" r="1.9"/>
<circle cx="628.6" cy="692.4" r="1.9"/>
<circle cx="628.6" cy="699.4" r="1.9"/>
<circle cx="628.6" cy="706.4" r="1.9"/>
<circle cx="628.6" cy="713.4" r="1.9"/>
<circle cx="633.8" cy="692.4" r="1.9"/>
<circle cx="633.8" cy="699.4" r="1.9"/>
<circle cx="633.8" cy="706.4" r="1.9"/>
<circle cx="633.8" cy="713.4" r="1.9"/>
<circle cx="639.0" cy="692.4" r="1.9"/>
<circle cx="639.0" cy="699.4" r="1.9"/>
<circle cx="639.0" cy="706.4" r="1.9"/>
<circle cx="639.0" cy="713.4" r="1.9"/>
</g>

<!-- TOP DETAILS -->
<use href="#ciwsL" x="572.5" y="580.5"/>
<use href="#ciwsL" x="572.5" y="669.5"/>
<g transform="translate(815.3 597.3) scale(-1 1)"><use href="#ciwsL"/></g>
<g transform="translate(815.3 650.7) scale(-1 1)"><use href="#ciwsL"/></g>
<use href="#dirT" x="859" y="580.2"/>
<use href="#dirT" x="859" y="670"/>
<use href="#tee" transform="translate(569 536) rotate(-35)"/>
<use href="#tee" transform="translate(584.5 537) rotate(50)"/>
<use href="#tee" transform="translate(569 714) rotate(-145)"/>
<use href="#tee" transform="translate(584.5 713) rotate(130)"/>
<use href="#tee" transform="translate(899 581) rotate(-20)"/>
<use href="#tee" transform="translate(914 583) rotate(30)"/>
<use href="#tee" transform="translate(899 669) rotate(-160)"/>
<use href="#tee" transform="translate(914 667) rotate(150)"/>
<use href="#gkT" x="698.7" y="546"/>
<use href="#gkT" x="716" y="546"/>
<g transform="translate(0 1250) scale(1 -1)"><use href="#gkT" x="698.7" y="546"/><use href="#gkT" x="716" y="546"/></g>
<use href="#turT"/>
<use href="#turT" x="113"/>
<g fill="none" stroke="#000" stroke-width="0.7">
<!-- sea dart arms -->
<path d="M604 592L609.5 583.5L615.5 592ZM588 599.3L593 590.8L599 597.5ZM604 657.5L609.5 666L615.5 657.5ZM588 650.2L593 658.7L599 652Z"/>
<path d="M663 584L667 590M663 666L667 660" stroke-width="1.5"/>
<!-- sea wolf launcher -->
<rect x="672.5" y="617" width="12" height="14.5" rx="2"/>
<circle cx="678.5" cy="624.3" r="3"/>
<rect x="667.6" y="619.3" width="4.3" height="9.1"/>
<path d="M661 599.3L673.5 617.5M661 650.2L673.5 631M700 599.3L684 617.5M700 646.5L684 631" stroke-width="0.9"/>
<path d="M672.5 604.7V617M684.5 604.7V617M672.5 631V645.5M684.5 631V645.5" stroke-width="0.7"/>
<!-- eyes -->
<path d="M710 599.8Q714 591 718 599.8M732.7 599.8Q736.7 591 740.7 599.8M710 650Q714 659 718 650M732.7 650Q736.7 659 740.7 650"/>
<!-- 114mm turrets top -->
<ellipse cx="881.6" cy="545.4" rx="13.3" ry="10.3"/>
<ellipse cx="881.6" cy="705" rx="13.3" ry="10.3"/>
<path d="M894.5 545.4H916.7M894.5 705H916.7" stroke-width="1"/>
<rect x="876.1" y="543.1" width="5.2" height="4.5"/><rect x="876.1" y="702.7" width="5.2" height="4.5"/>
<path d="M876.1 545.4H881.3M876.1 705H881.3" stroke-width="0.5"/>
<rect x="884.6" y="543.9" width="10.3" height="3" rx="1.5" fill="#666"/>
<rect x="884.6" y="703.5" width="10.3" height="3" rx="1.5" fill="#666"/>
<!-- twin items -->
<rect x="823" y="538.3" width="11.4" height="4.5" rx="2"/><rect x="823" y="550.7" width="11.4" height="4.5" rx="2"/>
<path d="M824.5 542.8V550.7M833.4 542.8V550.7"/>
<path d="M834.4 540.5H843.2M834.4 552.9H843.2" stroke-width="1.1"/>
<rect x="823" y="707.6" width="11.4" height="4.5" rx="2"/><rect x="823" y="695.2" width="11.4" height="4.5" rx="2"/>
<path d="M824.5 699.7V707.6M833.4 699.7V707.6"/>
<path d="M834.4 709.9H843.2M834.4 697.5H843.2" stroke-width="1.1"/>
<!-- fwd sea wolf -->
<path d="M833.3 597L873 645.5M873.5 599L833.3 650" stroke-width="1.1"/>
<rect x="835.5" y="607.5" width="6" height="32.5" fill="#fff" stroke="#444"/>
<path d="M841.5 612.5H858V637H841.5Z" fill="#fff" stroke="#444"/>
<path d="M845 612.5V605H852V612.5M845 637V644.5H852V637" fill="#fff" stroke="#444"/>
<circle cx="850.7" cy="624.7" r="6" fill="#fff" stroke="#444"/>
<circle cx="850.7" cy="624.7" r="2.5" stroke="#444"/>
<path d="M822.7 624.5H876" stroke="#333" stroke-width="1.8" stroke-dasharray="1.5 0.6"/>
<!-- director fwd -->
<path d="M945 616.7Q936 617 936 624.7Q936 632.5 945 632.7"/>
<rect x="945" y="616.7" width="9.7" height="16"/>
<path d="M942.7 602V648.7M941 603H944.5M941 647.7H944.5" stroke-width="0.9"/>
<circle cx="966.7" cy="610" r="0.9" fill="#000"/><circle cx="966.7" cy="625.2" r="0.9" fill="#000"/><circle cx="966.7" cy="639.9" r="0.9" fill="#000"/>
<path d="M909.8 595.3L915.5 587.5L921.5 595.3M909.8 655.3L915.5 663L921.5 655.3"/><circle cx="915.5" cy="588.5" r="1" fill="#000"/><circle cx="915.5" cy="662" r="1" fill="#000"/>
</g>

<!-- TOP VIEW HELIS -->
<g transform="translate(48.5 567) rotate(180)"><use href="#lynxT"/></g>
<use href="#lynxT" x="199.6" y="560.7"/>
<use href="#lynxT" x="341" y="561"/>
<g transform="translate(474 694) rotate(180)"><use href="#lynxT"/></g>
<use href="#stalT" x="52.7" y="690.7"/>
<use href="#stalT" x="257.6" y="705.5"/>

<!-- RUDDER & PROPS -->
<g fill="none" stroke="#000" stroke-width="1">
<path d="M25.2 397.5L81.2 400.3V419.4H76.3V424H83.7Q88 424 90 421.5Q93 418 98.5 417.5V437.8H57.8Q56.5 437.5 56 435L51.7 403Q51.5 400.5 54 400.3" />
<path d="M98.5 417.5Q106 416.5 112 419.5" stroke-width="0.8"/>
<path d="M139 428.5L157.5 440.5" />
</g>
<g id="prop" fill="none" stroke="#333" stroke-width="0.6">
<path d="M115 424Q111.5 417 113.5 412Q115.5 410.5 117 413Q118.5 418 117 424"/>
<path d="M115 425Q112.5 431 114.5 435.5Q116.5 436 117.5 432Q118 428 117 425"/>
<path d="M106 424.3Q108 422 112 422.2L118 422V427L112 426.8Q108 427 106 424.3Z"/>
<path d="M118 420.6H139.5Q141 420.6 143 422.5L146 423H184.5M118 428.5H139.5Q141 428.5 143 426.5L146 425.7H184.5M139.5 420.6V428.5"/>
</g>
<rect x="128" y="408" width="6.8" height="14.5" fill="#fff" stroke="#000" stroke-width="0.9"/>
<use href="#prop" x="76.5" y="0"/>
<rect x="204.2" y="404.8" width="7.3" height="17" fill="#fff" stroke="#000" stroke-width="0.9"/>
<g fill="none" stroke="#333" stroke-width="0.6">
<path d="M222 423H296M222 425.6H296M296 421.5Q300 420 303 420L327.7 429.5M296 428Q300 428.5 303 428.5H327M303 420V428.5"/>
</g>
<path d="M303 420L327.7 429.5" stroke="#000" stroke-width="1"/>
<!-- bow anchor side -->
<g fill="none" stroke="#333" stroke-width="0.6" transform="translate(1526 345.5) rotate(-25)">
<rect x="-5" y="-6" width="10" height="12" rx="2"/><circle cx="0" cy="0" r="3"/><path d="M-7 -6H7M-7 6H7"/>
</g>

<!-- ANCHOR GEAR TOP -->
<g fill="none" stroke="#000" stroke-width="0.8">
<path d="M1334.6 612.8H1454L1454.7 607.6L1505 610.9Q1511.6 611.5 1511.6 614.8Q1511.6 618.4 1505 618.3L1493.5 617.3L1391.4 616.7L1364.3 621.8V616.7H1334.6"/>
<path d="M1364.3 625.7L1391.4 630.9H1447.6L1448.3 627.7L1505 631.5Q1511.6 632 1511.6 635.2Q1511.6 639 1505 639L1491 637.4L1400.5 634.8L1371.4 641.2V634.8L1335.8 634.1"/>
<path d="M1317 606.5Q1317 604.4 1320 604.4H1337.8M1317 606.5V636Q1317 638 1320 638H1337.8" stroke="#555" stroke-width="0.6"/>
<circle cx="1328.7" cy="612.2" r="4.5"/><circle cx="1328.7" cy="629.6" r="4.5"/>
<circle cx="1348.1" cy="608.3" r="3.6"/><circle cx="1348.1" cy="624.4" r="3.6"/>
<circle cx="1348.1" cy="624.4" r="1.8" stroke-width="0.5"/>
<path d="M1333.5 608H1348M1333.5 616H1338V621H1333.5M1333.5 626H1344" stroke-width="0.6"/>
<circle cx="1317" cy="609.5" r="0.9"/><circle cx="1317" cy="628" r="0.9"/>
</g>
<g fill="#222"><ellipse cx="1500.5" cy="615" rx="5.5" ry="1.9"/><ellipse cx="1500.5" cy="634.5" rx="5.5" ry="1.9"/></g>
</svg>
</body></html>
